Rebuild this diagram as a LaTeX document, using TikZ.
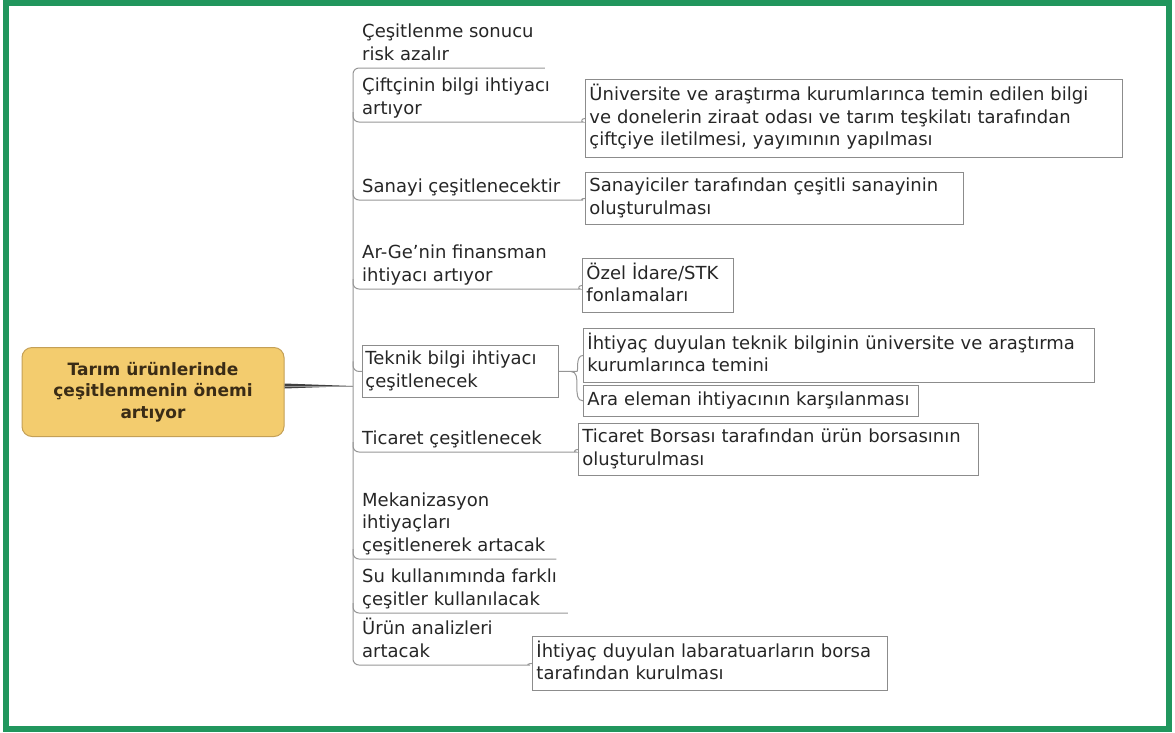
\documentclass[tikz,border=0pt]{standalone}
\usepackage{fontspec}
\setmainfont{DejaVu Sans}
\usetikzlibrary{positioning}
\definecolor{frame green}{RGB}{33,150,93}
\definecolor{main fill}{RGB}{243,204,110}
\definecolor{main line}{RGB}{196,160,86}
\definecolor{main text}{RGB}{58,44,22}
\definecolor{line gray}{RGB}{150,150,150}
\definecolor{box gray}{RGB}{140,140,140}
\definecolor{text gray}{RGB}{38,38,38}
\newcommand{\mapfont}{\fontsize{18}{22.5}\selectfont}
\tikzset{main node/.style={rectangle,rounded corners=10pt,draw=main line,fill=main fill,line width=1pt,
    minimum width=262pt,minimum height=89pt,align=center,text=main text,
    font=\fontsize{17}{21.5}\selectfont\bfseries},
  topic node/.style={anchor=south west,inner sep=1pt,align=left,text=text gray,font=\mapfont,
    execute at begin node=\strut,execute at end node=\strut},
  topic box/.style={draw=box gray,line width=0.9pt,anchor=north west,inner xsep=3pt,
    text width=190pt,minimum height=52pt},
  leaf node/.style={draw=box gray,line width=0.9pt,anchor=north west,inner xsep=4pt,inner ysep=0pt,
    align=left,text=text gray,font=\mapfont,execute at begin node=\strut,execute at end node=\strut},
  branch/.style={draw=line gray,line width=1pt,rounded corners=6pt},
}

\begin{document}
\begin{tikzpicture}[x=1pt,y=-1pt]
  \useasboundingbox (0,0) rectangle (1175,732);
  \draw[frame green,line width=6pt] (6,3) rectangle (1169,728.5);

  \node[main node] (main) at (153,392) {Tarım ürünlerinde\\çeşitlenmenin önemi\\artıyor};
  \coordinate (trunk) at (353,0);
  \coordinate (hub) at (353,386);

  % topics
  \node[topic node] (t1) at (361,68)  {Çeşitlenme sonucu\\risk azalır};
  \node[topic node] (t2) at (361,122) {Çiftçinin bilgi ihtiyacı\\artıyor};
  \node[topic node] (t3) at (361,200) {Sanayi çeşitlenecektir};
  \node[topic node] (t4) at (361,289) {Ar-Ge'nin finansman\\ihtiyacı artıyor};
  \node[topic node,topic box] (t5) at (362,345) {Teknik bilgi ihtiyacı\\çeşitlenecek};
  \node[topic node] (t6) at (361,452) {Ticaret çeşitlenecek};
  \node[topic node] (t7) at (361,559) {Mekanizasyon\\ihtiyaçları\\çeşitlenerek artacak};
  \node[topic node] (t8) at (361,613) {Su kullanımında farklı\\çeşitler kullanılacak};
  \node[topic node] (t9) at (361,665) {Ürün analizleri\\artacak};

  % leaves
  \node[leaf node,text width=529pt,minimum height=78pt] (l2) at (585,79)
    {Üniversite ve araştırma kurumlarınca temin edilen bilgi\\ve donelerin ziraat odası ve tarım teşkilatı tarafından\\çiftçiye iletilmesi, yayımının yapılması};
  \node[leaf node,text width=370pt,minimum height=52pt] (l3) at (585,172)
    {Sanayiciler tarafından çeşitli sanayinin\\oluşturulması};
  \node[leaf node,text width=143pt,minimum height=54pt] (l4) at (582,258)
    {Özel İdare/STK\\fonlamaları};
  \node[leaf node,text width=503pt,minimum height=54pt] (l5a) at (583,328)
    {İhtiyaç duyulan teknik bilginin üniversite ve araştırma\\kurumlarınca temini};
  \node[leaf node,text width=327pt,minimum height=31pt,below=2pt of l5a.south west,anchor=north west] (l5b)
    {Ara eleman ihtiyacının karşılanması};
  \node[leaf node,text width=392pt,minimum height=52pt] (l6) at (578,423)
    {Ticaret Borsası tarafından ürün borsasının\\oluşturulması};
  \node[leaf node,text width=347pt,minimum height=54pt] (l9) at (532,636)
    {İhtiyaç duyulan labaratuarların borsa\\tarafından kurulması};

  % connectors
  \path (main.east |- hub) coordinate (m0);
  \fill[black!75] ([yshift=2.5pt]m0) -- (hub) -- ([yshift=-2.5pt]m0) -- cycle;
  \draw[branch] (m0) -- (hub);
  \draw[branch] ([xshift=10pt]t1.south east) -| (trunk |- t9.south)
    -- ([xshift=-9pt]l9.west |- t9.south) to[out=0,in=180] (l9.west);
  \foreach \tp/\lf in {t2/l2,t3/l3,t4/l4,t6/l6}
    \draw[branch] ([yshift=10pt]trunk |- \tp.south) |- ([xshift=-8pt]\lf.west |- \tp.south)
      to[out=0,in=180] (\lf.west);
  \foreach \tp in {t7,t8}
    \draw[branch] ([yshift=10pt]trunk |- \tp.south) |- ([xshift=10pt]\tp.south east);
  \draw[branch] ([yshift=10pt]trunk |- t5.west) |- (t5.west);
  \draw[branch] (t5.east) -- ++(12,0) coordinate (split) to[out=0,in=180] (l5a.west)
    (split) to[out=0,in=180] (l5b.west);
\end{tikzpicture}
\end{document}
